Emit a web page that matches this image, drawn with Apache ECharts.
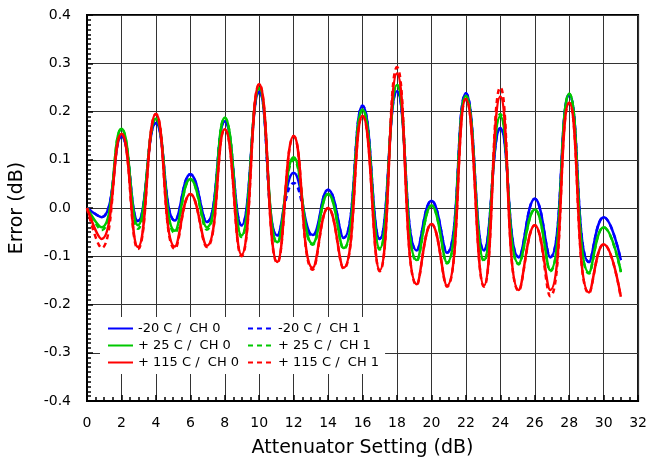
<!DOCTYPE html>
<html>
<head>
<meta charset="utf-8">
<script src="https://cdn.jsdelivr.net/npm/echarts@6/dist/echarts.min.js"></script>
<style>html,body{margin:0;padding:0;background:#fff}#c{width:650px;height:463px}</style>
</head>
<body>
<div id="c"></div>
<script>
// Attenuator setting (dB) at each extreme of the error ripple
const xPos = [0, 0.85, 2, 2.96, 4, 5.1, 6, 6.96, 8, 8.97, 10, 11.05, 12, 13.1, 14, 14.9, 16, 17, 18, 19.15, 20, 20.9, 22, 23.05, 24, 25.07, 26, 26.9, 28, 29.15, 30, 31];

const m20ch0 = [0, -0.019, 0.148, -0.027, 0.176, -0.026, 0.070, -0.029, 0.180, -0.036, 0.241, -0.057, 0.073, -0.056, 0.038, -0.062, 0.212, -0.064, 0.242, -0.088, 0.015, -0.093, 0.238, -0.088, 0.166, -0.102, 0.019, -0.102, 0.235, -0.112, -0.019, -0.108];
const m20ch1 = [0, -0.019, 0.148, -0.027, 0.176, -0.026, 0.070, -0.029, 0.180, -0.036, 0.241, -0.058, 0.052, -0.058, 0.038, -0.062, 0.212, -0.064, 0.242, -0.088, 0.015, -0.093, 0.238, -0.088, 0.166, -0.102, 0.019, -0.102, 0.235, -0.112, -0.019, -0.108];
const p25ch0 = [0, -0.040, 0.164, -0.036, 0.185, -0.047, 0.060, -0.040, 0.187, -0.057, 0.248, -0.071, 0.105, -0.074, 0.029, -0.083, 0.204, -0.084, 0.255, -0.108, 0.005, -0.113, 0.232, -0.108, 0.190, -0.115, -0.003, -0.129, 0.237, -0.134, -0.040, -0.131];
const p25ch1 = [0, -0.046, 0.164, -0.043, 0.185, -0.052, 0.060, -0.045, 0.187, -0.060, 0.248, -0.073, 0.100, -0.076, 0.029, -0.085, 0.204, -0.086, 0.255, -0.110, 0.005, -0.115, 0.232, -0.110, 0.195, -0.117, -0.003, -0.131, 0.237, -0.136, -0.040, -0.133];
const p115ch0 = [0, -0.064, 0.154, -0.081, 0.195, -0.080, 0.029, -0.078, 0.163, -0.097, 0.257, -0.112, 0.149, -0.124, 0.000, -0.124, 0.191, -0.129, 0.279, -0.158, -0.033, -0.161, 0.226, -0.161, 0.231, -0.170, -0.036, -0.170, 0.218, -0.175, -0.075, -0.184];
const p115ch1 = [0, -0.083, 0.154, -0.085, 0.195, -0.085, 0.029, -0.081, 0.163, -0.100, 0.257, -0.114, 0.149, -0.128, 0.000, -0.126, 0.191, -0.131, 0.292, -0.160, -0.033, -0.163, 0.226, -0.163, 0.250, -0.172, -0.036, -0.183, 0.218, -0.177, -0.075, -0.186];

const seriesNames = ['-20 C /  CH 0', '+ 25 C /  CH 0', '+ 115 C /  CH 0', '-20 C /  CH 1', '+ 25 C /  CH 1', '+ 115 C /  CH 1'];

const FONT = 'DejaVu Sans';
const BLUE = '#0000ff', GREEN = '#00c800', RED = '#ff0000';

function pts(vals) { return xPos.map((x, i) => [x, vals[i]]); }
function mk(name, vals, color, dashed) {
  return {
    name: name, type: 'line', data: pts(vals), symbol: 'none', smooth: 0.5,
    lineStyle: { color: color, width: 2.5, type: dashed ? [5, 4] : 'solid' },
    itemStyle: { color: color }
  };
}

const chart = echarts.init(document.getElementById('c'), null, { renderer: 'canvas' });
const legendCommon = {
  orient: 'vertical', top: 317, itemGap: 4, itemWidth: 25, itemHeight: 14,
  backgroundColor: '#fff', itemStyle: { opacity: 0 },
  textStyle: { fontFamily: FONT, fontSize: 13, color: '#000' }
};
chart.setOption({
  animation: false,
  backgroundColor: '#fff',
  grid: { left: 86, right: 9, top: 15, bottom: 60, show: true, borderColor: '#000', borderWidth: 2 },
  xAxis: {
    type: 'value', min: 0, max: 32, interval: 2,
    name: 'Attenuator Setting (dB)', nameLocation: 'middle', nameGap: 38,
    nameTextStyle: { fontFamily: FONT, fontSize: 19, color: '#000' },
    axisLine: { show: true, onZero: false, lineStyle: { color: '#000', width: 2 } },
    axisTick: { show: true, inside: true, length: 6, lineStyle: { color: '#000', width: 1.5 } },
    minorTick: { show: true, splitNumber: 4, length: 4, lineStyle: { color: '#000', width: 1.5 } },
    splitLine: { show: true, lineStyle: { color: '#333', width: 1 } },
    axisLabel: { fontFamily: FONT, fontSize: 14, color: '#000', margin: 15 }
  },
  yAxis: {
    type: 'value', min: -0.4, max: 0.4, interval: 0.1,
    name: 'Error (dB)', nameLocation: 'middle', nameGap: 60,
    nameTextStyle: { fontFamily: FONT, fontSize: 19, color: '#000' },
    axisLine: { show: true, onZero: false, lineStyle: { color: '#000', width: 2 } },
    axisTick: { show: true, inside: true, length: 6, lineStyle: { color: '#000', width: 1.5 } },
    minorTick: { show: true, splitNumber: 10, length: 4, lineStyle: { color: '#000', width: 1.5 } },
    splitLine: { show: true, lineStyle: { color: '#333', width: 1 } },
    axisLabel: { fontFamily: FONT, fontSize: 14, color: '#000', margin: 16,
      formatter: function (v) { const s = (Math.round(v * 10) / 10).toFixed(1); return s === '-0.0' ? '0.0' : s; } }
  },
  legend: [
    Object.assign({}, legendCommon, { data: seriesNames.slice(0, 3), left: 100, padding: [5, 5, 5, 7] }),
    Object.assign({}, legendCommon, { data: seriesNames.slice(3, 6), left: 236, padding: [5, 6, 5, 11] })
  ],
  series: [
    mk(seriesNames[0], m20ch0, BLUE, false),
    mk(seriesNames[3], m20ch1, BLUE, true),
    mk(seriesNames[1], p25ch0, GREEN, false),
    mk(seriesNames[4], p25ch1, GREEN, true),
    mk(seriesNames[2], p115ch0, RED, false),
    mk(seriesNames[5], p115ch1, RED, true)
  ]
});
</script>
</body>
</html>
